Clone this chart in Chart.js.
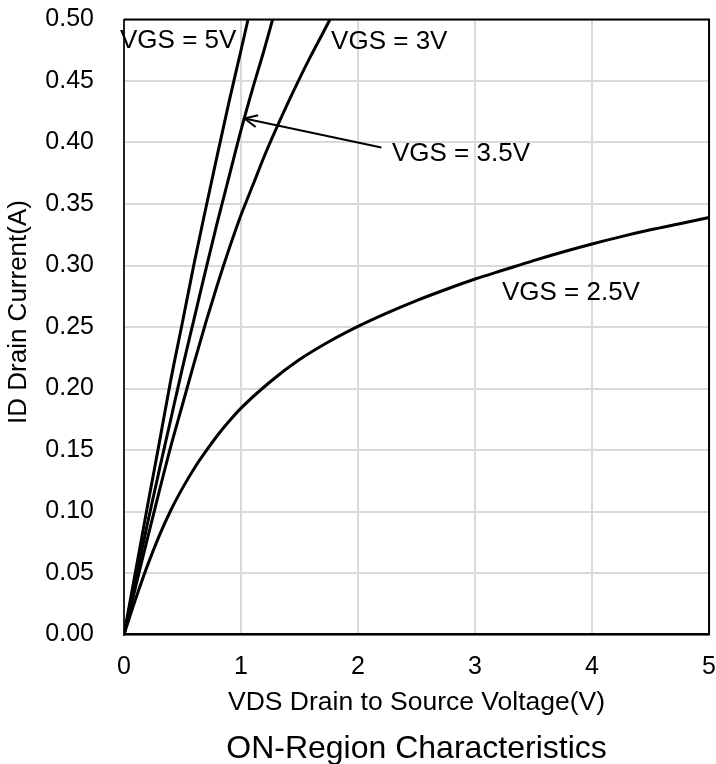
<!DOCTYPE html>
<html>
<head>
<meta charset="utf-8">
<script src="https://cdn.jsdelivr.net/npm/chart.js@4.4.1/dist/chart.umd.min.js"></script>
<style>
html,body{margin:0;padding:0;background:#fff;}
#wrap{width:716px;height:764px;}
</style>
</head>
<body>
<div id="wrap"><canvas id="c" width="716" height="764"></canvas></div>
<script>
// ---- data ----
const xTickValues = [0, 1, 2, 3, 4, 5];
const yTickValues = [0, 0.05, 0.10, 0.15, 0.20, 0.25, 0.30, 0.35, 0.40, 0.45, 0.50];

const vds_5V = [0, 0.1, 0.2, 0.3, 0.4, 0.5, 0.6, 0.7, 0.8, 0.9, 1.0, 1.06];
const id_5V  = [0, 0.052, 0.104, 0.155, 0.207, 0.254, 0.302, 0.347, 0.391, 0.434, 0.475, 0.50];

const vds_35V = [0, 0.1, 0.2, 0.3, 0.4, 0.5, 0.6, 0.7, 0.8, 0.9, 1.0, 1.1, 1.2, 1.27];
const id_35V  = [0, 0.045, 0.09, 0.133, 0.175, 0.217, 0.257, 0.297, 0.336, 0.373, 0.41, 0.444, 0.476, 0.50];

const vds_3V = [0, 0.1, 0.2, 0.3, 0.4, 0.5, 0.6, 0.7, 0.8, 0.9, 1.0, 1.1, 1.2, 1.3, 1.4, 1.5, 1.6, 1.7, 1.76];
const id_3V  = [0, 0.039, 0.078, 0.116, 0.153, 0.187, 0.221, 0.254, 0.285, 0.314, 0.341, 0.365, 0.389, 0.411, 0.432, 0.452, 0.471, 0.489, 0.50];

const vds_25V = [0, 0.1, 0.2, 0.3, 0.4, 0.5, 0.6, 0.7, 0.8, 0.9, 1.0, 1.25, 1.5, 1.75, 2.0, 2.25, 2.5, 2.75, 3.0, 3.25, 3.5, 3.75, 4.0, 4.25, 4.5, 4.75, 5.0];
const id_25V  = [0, 0.029, 0.056, 0.080, 0.101, 0.119, 0.135, 0.149, 0.162, 0.1735, 0.184, 0.2055, 0.2235, 0.238, 0.2505, 0.2615, 0.2715, 0.2805, 0.289, 0.2965, 0.304, 0.311, 0.3175, 0.3235, 0.329, 0.334, 0.339];

const seriesNames = ['VGS = 5V', 'VGS = 3.5V', 'VGS = 3V', 'VGS = 2.5V'];

// curve labels (data coordinates of the label's left/middle point)
const labelTexts = ['VGS = 5V', 'VGS = 3V', 'VGS = 3.5V', 'VGS = 2.5V'];
const labelX = [-0.034, 1.77, 2.29, 3.23];
const labelY = [0.483, 0.482, 0.391, 0.278];
// arrow from the 3.5V label to its curve
const arrowFrom = [2.2, 0.396];
const arrowTo = [1.03, 0.4195];

const chartTitle = 'ON-Region Characteristics';
const xTitle = 'VDS Drain to Source Voltage(V)';
const yTitle = 'ID Drain Current(A)';

const FONT = "'Liberation Sans', Arial, Helvetica, sans-serif";

function pts(xs, ys) { return xs.map((x, i) => ({x: x, y: ys[i]})); }

const seriesX = [vds_5V, vds_35V, vds_3V, vds_25V];
const seriesY = [id_5V, id_35V, id_3V, id_25V];

const datasets = seriesNames.map((n, i) => ({
  label: n,
  data: pts(seriesX[i], seriesY[i]),
  borderColor: '#000',
  borderWidth: 3,
  pointRadius: 0,
  fill: false,
  cubicInterpolationMode: 'monotone'
}));

const overlay = {
  id: 'overlay',
  afterDraw(chart) {
    const {ctx, chartArea: a, scales} = chart;
    const xs = scales.x, ys = scales.y;
    ctx.save();
    // top and right frame
    ctx.strokeStyle = '#000';
    ctx.lineWidth = 2;
    ctx.beginPath();
    ctx.moveTo(a.left, a.top);
    ctx.lineTo(a.right, a.top);
    ctx.lineTo(a.right, a.bottom);
    ctx.stroke();
    // labels
    ctx.fillStyle = '#000';
    ctx.font = '26px ' + FONT;
    ctx.textAlign = 'left';
    ctx.textBaseline = 'middle';
    labelTexts.forEach((t, i) => {
      ctx.fillText(t, xs.getPixelForValue(labelX[i]), ys.getPixelForValue(labelY[i]));
    });
    // arrow
    const x1 = xs.getPixelForValue(arrowFrom[0]), y1 = ys.getPixelForValue(arrowFrom[1]);
    const x2 = xs.getPixelForValue(arrowTo[0]), y2 = ys.getPixelForValue(arrowTo[1]);
    ctx.lineWidth = 2;
    ctx.beginPath();
    ctx.moveTo(x1, y1);
    ctx.lineTo(x2, y2);
    ctx.stroke();
    const ang = Math.atan2(y1 - y2, x1 - x2);
    const L = 14, w = 0.45;
    ctx.beginPath();
    ctx.moveTo(x2 + L * Math.cos(ang - w), y2 + L * Math.sin(ang - w));
    ctx.lineTo(x2, y2);
    ctx.lineTo(x2 + L * Math.cos(ang + w), y2 + L * Math.sin(ang + w));
    ctx.stroke();
    // y axis title (rotated), sitting a little above the axis centre as in the reference
    ctx.save();
    ctx.translate(19, (a.top + a.bottom) / 2 - 15);
    ctx.rotate(-Math.PI / 2);
    ctx.font = '26px ' + FONT;
    ctx.textAlign = 'center';
    ctx.textBaseline = 'middle';
    ctx.fillText(yTitle, 0, 0);
    ctx.restore();
    // main title under the x axis title
    ctx.font = '32px ' + FONT;
    ctx.textAlign = 'center';
    ctx.textBaseline = 'alphabetic';
    ctx.fillText(chartTitle, (a.left + a.right) / 2, chart.height - 6);
    ctx.restore();
  }
};

new Chart(document.getElementById('c'), {
  type: 'line',
  data: { datasets: datasets },
  options: {
    responsive: false,
    animation: false,
    layout: { padding: { left: 0, top: 19.5, right: 4, bottom: 0 } },
    plugins: { legend: { display: false }, tooltip: { enabled: false }, title: { display: false } },
    scales: {
      x: {
        type: 'linear', min: 0, max: 5,
        afterBuildTicks: (s) => { s.ticks = xTickValues.map(v => ({value: v})); },
        afterFit: (s) => { s.height = 129.5; },
        ticks: { color: '#000', font: { family: FONT, size: 25 }, padding: 0, maxRotation: 0,
                 callback: (v) => String(v) },
        grid: { color: '#d9d9d9', lineWidth: 2, drawTicks: true, tickLength: 18, tickColor: 'rgba(0,0,0,0)' },
        border: { color: '#000', width: 2.5 },
        title: { display: true, text: xTitle, color: '#000', font: { family: FONT, size: 26.5 },
                 padding: { top: 0, bottom: 45 } }
      },
      y: {
        type: 'linear', min: 0, max: 0.5,
        afterBuildTicks: (s) => { s.ticks = yTickValues.map(v => ({value: v})); },
        afterFit: (s) => { s.width = 124; },
        ticks: { color: '#000', font: { family: FONT, size: 25 }, padding: 0,
                 callback: (v) => Number(v).toFixed(2) },
        grid: { color: '#d9d9d9', lineWidth: 2, drawTicks: true, tickLength: 30, tickColor: 'rgba(0,0,0,0)' },
        border: { color: '#222', width: 2 },
        title: { display: false, text: yTitle }
      }
    }
  },
  plugins: [overlay]
});
</script>
</body>
</html>
